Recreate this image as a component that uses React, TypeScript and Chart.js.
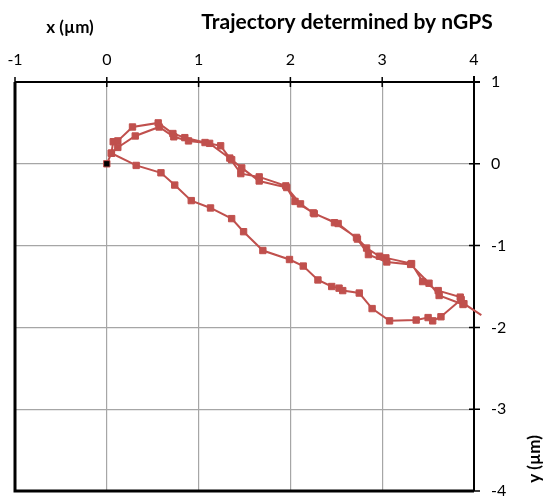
import React, { useEffect, useRef } from "react";
import { Chart, registerables } from "chart.js";

Chart.register(...registerables);

const chartTitle = "Trajectory determined by nGPS";
const xTitle = "x (µm)";
const yTitle = "y (µm)";
const xTicks = [-1, 0, 1, 2, 3, 4];
const yTicks = [-4, -3, -2, -1, 0, 1];

const trajX = [
  0, 0.05, 0.07, 0.12, 0.28, 0.56, 0.72, 0.85, 1.07, 1.24, 1.34, 1.46, 1.66, 1.95, 2.05, 2.25, 2.48, 2.72,
  2.83, 2.97, 3.04, 3.32, 3.44, 3.61, 3.85, 3.88, 3.62, 3.51, 3.31, 3.05, 2.85, 2.73, 2.52, 2.26, 2.11,
  1.96, 1.66, 1.47, 1.36, 1.12, 0.89, 0.73, 0.57, 0.31, 0.12, 0.05, 0.32, 0.59, 0.74, 0.92, 1.13, 1.36,
  1.49, 1.7, 1.99, 2.14, 2.3, 2.45, 2.53, 2.57, 2.75, 2.89, 3.08, 3.37, 3.5, 3.55, 3.64, 3.86, 3.89, 4.08,
];
const trajY = [
  0, 0.13, 0.27, 0.28, 0.45, 0.5, 0.37, 0.32, 0.26, 0.22, 0.07, -0.12, -0.16, -0.27, -0.46, -0.6, -0.72,
  -0.9, -1.03, -1.13, -1.15, -1.22, -1.44, -1.55, -1.63, -1.72, -1.61, -1.46, -1.23, -1.2, -1.11, -0.92,
  -0.73, -0.61, -0.49, -0.29, -0.21, -0.05, 0.05, 0.25, 0.28, 0.33, 0.45, 0.34, 0.2, 0.13, -0.02, -0.11,
  -0.26, -0.45, -0.54, -0.67, -0.83, -1.06, -1.17, -1.25, -1.42, -1.5, -1.52, -1.55, -1.58, -1.77, -1.92,
  -1.91, -1.88, -1.92, -1.87, -1.66, -1.71, -1.85,
];

const RED = "#C0504D";
const FONT = "Lato, 'Open Sans', sans-serif";

const framePlugin = {
  id: "frame",
  beforeDatasetsDraw(chart: any) {
    const { ctx, chartArea: a, scales } = chart;
    const x = scales.x;
    const y = scales.y;
    ctx.save();
    ctx.strokeStyle = "#000";
    ctx.lineWidth = 3;
    ctx.beginPath();
    ctx.moveTo(a.left, a.top);
    ctx.lineTo(a.left, a.bottom);
    ctx.lineTo(a.right, a.bottom);
    ctx.stroke();
    ctx.lineWidth = 2;
    ctx.beginPath();
    ctx.moveTo(a.left, a.top);
    ctx.lineTo(a.right + 6, a.top);
    ctx.moveTo(a.right, a.top - 6);
    ctx.lineTo(a.right, a.bottom);
    ctx.stroke();
    ctx.lineWidth = 1.5;
    ctx.beginPath();
    xTicks.forEach((v) => {
      const px = x.getPixelForValue(v);
      ctx.moveTo(px, a.top - 5);
      ctx.lineTo(px, a.top + 5);
    });
    yTicks.forEach((v) => {
      const py = y.getPixelForValue(v);
      ctx.moveTo(a.right - 5, py);
      ctx.lineTo(a.right + 6, py);
    });
    ctx.stroke();
    ctx.restore();
  },
  afterDraw(chart: any) {
    const { ctx } = chart;
    ctx.save();
    ctx.fillStyle = "#000";
    ctx.textBaseline = "middle";
    ctx.textAlign = "center";
    ctx.font = `bold 21px ${FONT}`;
    ctx.fillText(chartTitle, 347, 22);
    ctx.font = `bold 17px ${FONT}`;
    ctx.fillText(xTitle, 70, 28);
    ctx.translate(535, 459);
    ctx.rotate(-Math.PI / 2);
    ctx.fillText(yTitle, 0, 0);
    ctx.restore();
  },
};

export default function App() {
  const ref = useRef<HTMLCanvasElement>(null);
  useEffect(() => {
    if (!ref.current) return;
    const points = trajX.map((v, i) => ({ x: v, y: trajY[i] }));
    const n = points.length;
    const chart = new Chart(ref.current, {
      type: "scatter",
      data: {
        datasets: [
          {
            data: points,
            showLine: true,
            borderColor: RED,
            backgroundColor: points.map((_, i) => (i === 0 ? "#000" : RED)),
            borderWidth: 2,
            pointStyle: "rect",
            pointRadius: points.map((_, i) => (i === n - 1 ? 0 : 4.5)),
            pointBorderColor: RED,
            pointBorderWidth: 1,
            clip: false as any,
          },
        ],
      },
      options: {
        responsive: true,
        maintainAspectRatio: false,
        animation: false,
        layout: { autoPadding: false, padding: { left: 15, right: 0, top: 0, bottom: 6 } },
        plugins: { legend: { display: false }, tooltip: { enabled: false } },
        scales: {
          x: {
            type: "linear",
            position: "top",
            min: -1,
            max: 4,
            afterBuildTicks: (s: any) => {
              s.ticks = xTicks.map((v) => ({ value: v }));
            },
            afterFit: (s: any) => {
              s.height = 82;
              s.paddingLeft = 0;
              s.paddingRight = 0;
            },
            grid: { color: "#A6A6A6", lineWidth: 1.2, drawTicks: false },
            border: { display: false },
            ticks: {
              padding: 13,
              color: "#000",
              font: { family: FONT, size: 16 },
              maxRotation: 0,
            },
          },
          y: {
            type: "linear",
            position: "right",
            min: -4,
            max: 1,
            afterBuildTicks: (s: any) => {
              s.ticks = yTicks.map((v) => ({ value: v }));
            },
            afterFit: (s: any) => {
              s.width = 73;
              s.paddingBottom = 0;
              s.paddingTop = 0;
            },
            grid: { color: "#A6A6A6", lineWidth: 1.2, drawTicks: false },
            border: { display: false },
            ticks: {
              padding: 17,
              color: "#000",
              font: { family: FONT, size: 16 },
            },
          },
        },
      },
      plugins: [framePlugin],
    });
    return () => chart.destroy();
  }, []);
  return (
    <div style={{ position: "absolute", left: 0, top: 0, width: 547, height: 497, background: "#fff" }}>
      <canvas ref={ref} />
    </div>
  );
}
